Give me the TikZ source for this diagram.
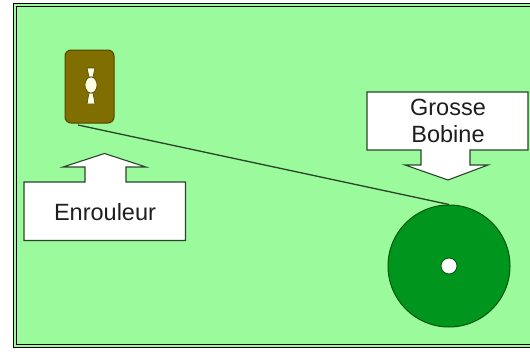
\documentclass[tikz,border=0pt]{standalone}
\usepackage{fontspec}
\setmainfont{Liberation Sans}
\definecolor{bggreen}{RGB}{155,250,155}
\definecolor{darkline}{RGB}{40,70,40}
\definecolor{olivefill}{RGB}{128,110,0}
\definecolor{olivedraw}{RGB}{80,70,0}
\definecolor{cream}{RGB}{255,255,228}
\definecolor{bobfill}{RGB}{0,150,30}
\definecolor{bobdraw}{RGB}{0,85,10}
\definecolor{txt}{RGB}{30,30,30}
\tikzset{
  callout/.style={fill=white, draw=darkline, line width=1.1pt, line join=miter},
  lbl/.style={font=\fontsize{23.5}{27}\selectfont, text=txt, align=center, inner sep=0pt},
  winder/.style={rectangle, rounded corners=6pt, fill=olivefill, draw=olivedraw, line width=1pt, minimum width=49pt, minimum height=73pt},
  reel/.style={circle, fill=bobfill, draw=bobdraw, line width=1pt, minimum size=122pt, inner sep=0pt},
  hub/.style={circle, fill=white, draw=bobdraw, line width=0.8pt, minimum size=16pt, inner sep=0pt},
  tape/.style={draw=darkline, line width=1.3pt}
}
\begin{document}
\begin{tikzpicture}[x=1pt, y=-1pt]
\useasboundingbox (0,0) rectangle (530,351);
\fill[white] (0,0) rectangle (530,351);
% background frame
\fill[bggreen] (13,3) rectangle (540,347);
\draw[black, line width=1pt] (13,3.5) rectangle (545,347);
\draw[black, line width=1pt] (16,6.5) rectangle (545,344.5);
% winder
\node[winder] (enr) at (89.5,86.5) {};
\filldraw[fill=cream, draw=olivedraw, line width=0.6pt] (87,68) -- (95,68) -- (93,77) -- (89,77) -- cycle;
\filldraw[fill=cream, draw=olivedraw, line width=0.6pt] (89,93) -- (93,93) -- (95,104) -- (87,104) -- cycle;
\filldraw[fill=cream, draw=olivedraw, line width=0.6pt] (91,85) ellipse [x radius=6, y radius=8];
% reel
\node[reel] (bob) at (449,266) {};
\node[hub] (hub) at (bob.center) {};
% tape
\coordinate (ts) at (78,125);
\draw[tape] (ts) -- (bob.north);
% callouts
\draw[callout] (24,182) -- (85,182) -- (85,167) -- (63,167) -- (104.5,153.5) -- (146,167) -- (126,167) -- (126,182) -- (185.5,182) -- (185.5,240.5) -- (24,240.5) -- cycle;
\node[lbl] (tenr) at (105,212) {Enrouleur};
\draw[callout] (367,92) -- (528,92) -- (528,150) -- (470,150) -- (470,165) -- (488,165) -- (448,180) -- (405,165) -- (421,165) -- (421,150) -- (367,150) -- cycle;
\node[lbl] (tbob) at (448,121) {Grosse\\Bobine};
\end{tikzpicture}
\end{document}
